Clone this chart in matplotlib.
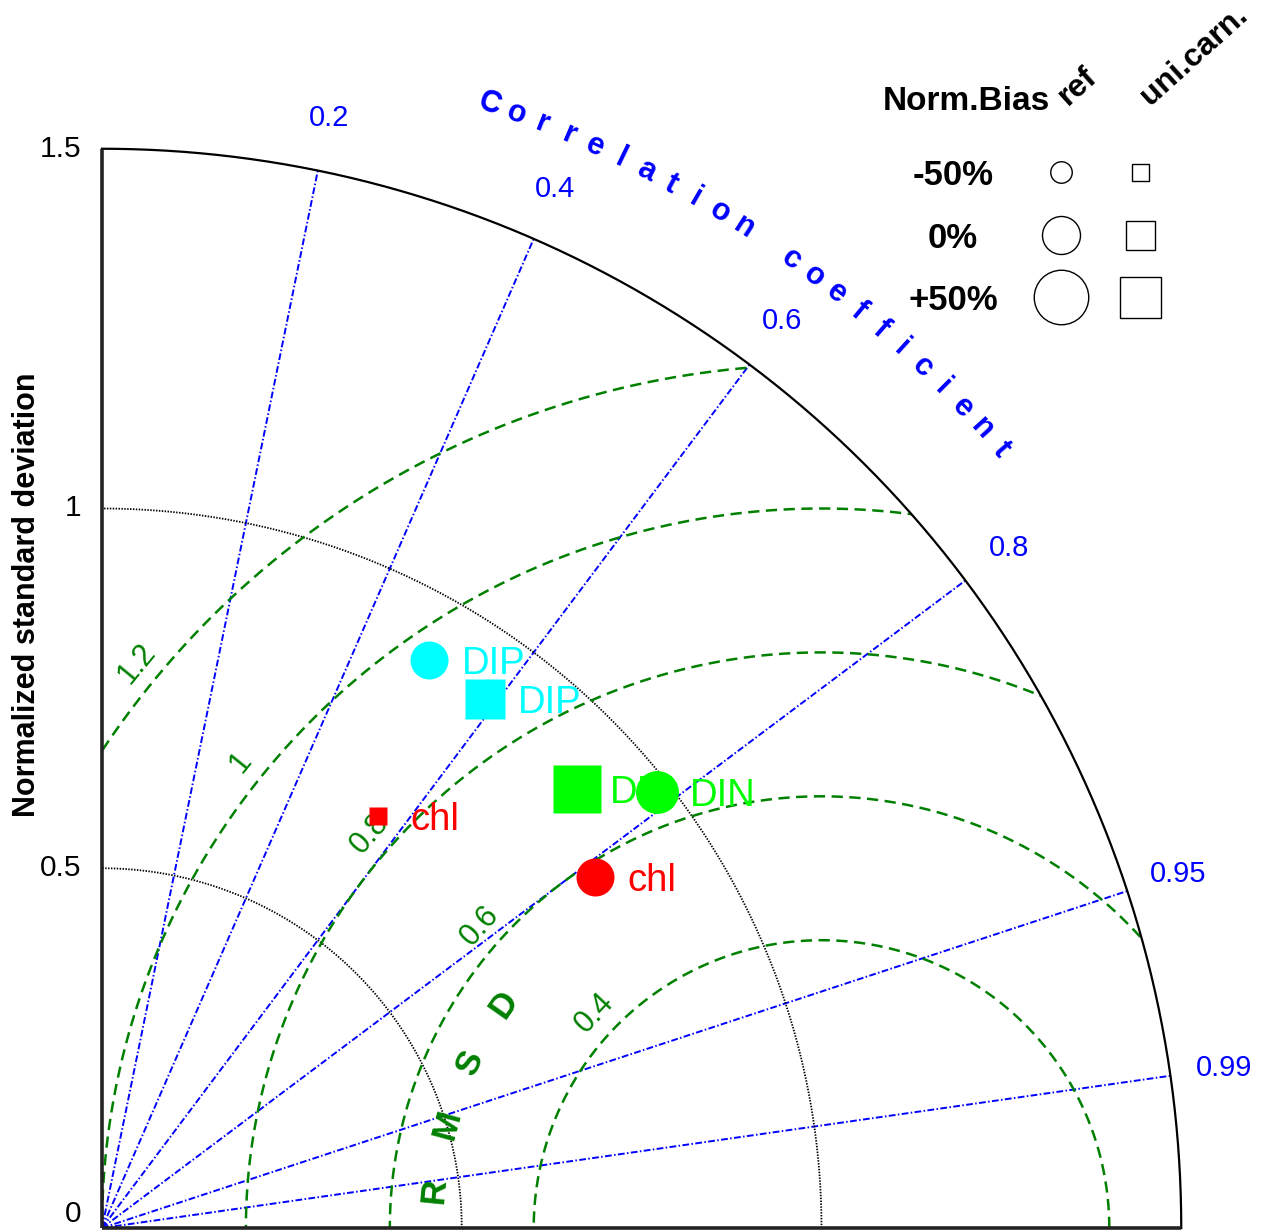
import numpy as np
import matplotlib
matplotlib.use("Agg")
import matplotlib.pyplot as plt
from matplotlib.patches import Wedge

plt.rcParams['font.family'] = ['Liberation Sans', 'DejaVu Sans']

# Normalised statistics per variable and run (std / std_obs, correlation with obs, bias)
var_names = ["DIP", "DIP", "DIN", "DIN", "chl", "chl"]
run_names = ["ref", "uni.carn.", "uni.carn.", "ref", "uni.carn.", "ref"]
var_colors = ["#00FFFF", "#00FFFF", "#00FF00", "#00FF00", "#FF0000", "#FF0000"]
norm_std = [0.911, 0.908, 0.899, 0.981, 0.689, 0.841]
correlation = [0.499, 0.586, 0.734, 0.786, 0.557, 0.815]
norm_bias_pct = [0, 48, 77, 15, -42, 0]

corr_ticks = [0.2, 0.4, 0.6, 0.8, 0.95, 0.99]
std_ticks = [0, 0.5, 1, 1.5]
std_ticklabels = ["0", "0.5", "1", "1.5"]
std_arcs = [0.5, 1.0]
rmsd_levels = [0.4, 0.6, 0.8, 1.0, 1.2]
rmsd_ticklabels = ["0.4", "0.6", "0.8", "1", "1.2"]
legend_bias = [-50, 0, 50]
legend_bias_labels = ["-50%", "0%", "+50%"]
legend_runs = ["ref", "uni.carn."]

STD_MAX = 1.5
run_marker = {"ref": "o", "uni.carn.": "s"}
BLUE = "#0000FF"
DGREEN = "#008000"


def marker_px(marker, bias):
    """Marker size (pixels) grows linearly with the normalised bias."""
    if marker == "o":
        return 38 + 0.33 * bias
    return 29 + 0.24 * bias


W, H, DPI = 1272, 1230, 100
fig = plt.figure(figsize=(W / DPI, H / DPI), dpi=DPI)
ax = fig.add_axes([0, 0, 1, 1])
ox, oy, scale = 102, 1228, 719.5
ax.set_xlim(-ox / scale, (W - ox) / scale)
ax.set_ylim(-(H - oy) / scale, oy / scale)
ax.axis('off')

clip = Wedge((0, 0), STD_MAX, 0, 90, transform=ax.transData)

# correlation rays
for c in corr_ticks:
    s = np.sqrt(1 - c ** 2)
    ax.plot([0, STD_MAX * c], [0, STD_MAX * s], color=BLUE, lw=1.4,
            ls=(0, (3.5, 1.2, 0.8, 1.2)), zorder=2)
    ax.text(1.575 * c, 1.575 * s, f"{c:g}", color=BLUE, fontsize=21,
            ha='center', va='center')

# standard deviation arcs
t = np.linspace(0, np.pi / 2, 500)
for r in std_arcs:
    ax.plot(r * np.cos(t), r * np.sin(t), color='black', lw=1.3,
            ls=(0, (0.8, 0.8)), zorder=2)
ax.plot(STD_MAX * np.cos(t), STD_MAX * np.sin(t), color='black', lw=1.6, zorder=3)

# axes lines
ax.plot([0, 0], [0, STD_MAX], color='#222222', lw=2.6, solid_capstyle='butt', zorder=3)
ax.plot([0, STD_MAX], [0, 0], color='#222222', lw=2.6, solid_capstyle='butt', zorder=3)

# RMSD circles around the reference point
tt = np.linspace(0, np.pi, 800)
rmsd_label_angles = [136.6, 138.5, 138.9, 141.3, 140.5]
for lev, lab, ang in zip(rmsd_levels, rmsd_ticklabels, rmsd_label_angles):
    ln, = ax.plot(1 + lev * np.cos(tt), lev * np.sin(tt), color=DGREEN, lw=1.8,
                  ls=(0, (4.5, 2.6)), zorder=2)
    ln.set_clip_path(clip)
    a = np.deg2rad(ang)
    rr = lev + 0.034
    ax.text(1 + rr * np.cos(a), rr * np.sin(a), lab, color=DGREEN, fontsize=22,
            rotation=ang - 90, ha='center', va='center', rotation_mode='anchor')

for ch, ang in zip("RMSD", [174.4, 164.6, 154.8, 144.9]):
    a = np.deg2rad(ang)
    ax.text(1 + 0.54 * np.cos(a), 0.54 * np.sin(a), ch, color=DGREEN, fontsize=25,
            fontweight='bold', rotation=ang - 90, ha='center', va='center',
            rotation_mode='anchor')

# curved axis title
title = "Correlation coefficient"
for i, ch in enumerate(title):
    if ch == " ":
        continue
    ang = 70.97 - i * 1.367
    a = np.deg2rad(ang)
    ax.text(1.6525 * np.cos(a), 1.6525 * np.sin(a), ch, color=BLUE, fontsize=22,
            fontweight='bold', rotation=ang - 90, ha='center', va='center',
            rotation_mode='anchor')

# std tick labels and axis label
for v, lab in zip(std_ticks, std_ticklabels):
    ax.text(-0.028, v, lab, fontsize=21.5, ha='right',
            va='bottom' if v == std_ticks[0] else 'center')
ax.text(-0.104, 0.88, "Normalized standard deviation", fontsize=22,
        fontweight='bold', rotation=90, ha='center', va='center')

# data points
for name, run, col, s, c, b in zip(var_names, run_names, var_colors,
                                    norm_std, correlation, norm_bias_pct):
    x, y = s * c, s * np.sqrt(1 - c ** 2)
    mk = run_marker[run]
    ax.plot([x], [y], ls='none', marker=mk, ms=marker_px(mk, b) * 0.72,
            color=col, mec='none', zorder=6)
    ax.annotate(name, (x, y), xytext=(23.5, 0), textcoords='offset points',
                ha='left', va='center_baseline', fontsize=27.5, color=col, zorder=5)


# bias legend (figure pixel layout)
def fpx(x, y):
    return x / W, 1 - y / H


ft = fig.transFigure
fig.text(*fpx(966, 110), "Norm.Bias", fontsize=24, fontweight='bold',
         ha='center', va='baseline')
for run, xpos in zip(legend_runs, [1068, 1150]):
    fig.text(*fpx(xpos, 106), run, fontsize=23, fontweight='bold', rotation=42,
             ha='left', va='baseline', rotation_mode='anchor')
for k, (b, lab) in enumerate(zip(legend_bias, legend_bias_labels)):
    yy = 172 + 62.5 * k
    fig.text(*fpx(953, yy), lab, fontsize=25, fontweight='bold',
             ha='center', va='center_baseline')
    for run, xpos in zip(legend_runs, [1061, 1140]):
        mk = run_marker[run]
        ax.plot(*[[v] for v in fpx(xpos, yy)], transform=ft, ls='none', marker=mk,
                ms=marker_px(mk, b) * 0.72, mfc='white', mec='black', mew=1.0,
                clip_on=False, zorder=6)

fig.savefig("out.png", dpi=DPI)
